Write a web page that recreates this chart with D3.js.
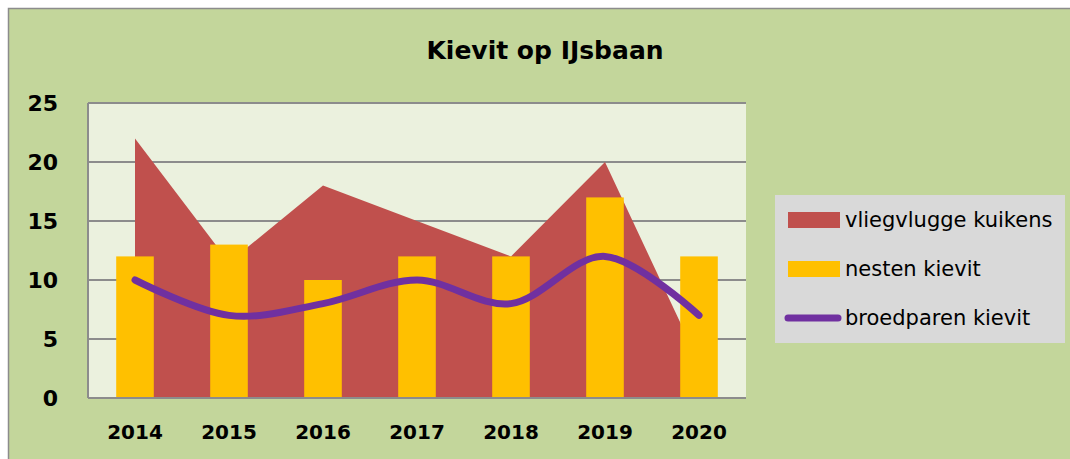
<!DOCTYPE html>
<html><head><meta charset="utf-8">
<script src="https://cdn.jsdelivr.net/npm/d3@7"></script>
<style>
html,body{margin:0;padding:0;background:#fff;overflow:hidden;}
text{font-family:"Comic Sans MS","DejaVu Sans",sans-serif;}
</style></head>
<body>
<svg id="c" width="1070" height="459"></svg>
<script>
const years = ["2014","2015","2016","2017","2018","2019","2020"];
const kuikens = [22, 11.5, 18, 15, 12, 20, 3];
const nesten = [12, 13, 10, 12, 12, 17, 12];
const broedparen = [10, 7, 8, 10, 8, 12, 7];
const yTicks = [0, 5, 10, 15, 20, 25];
const seriesNames = ["vliegvlugge kuikens", "nesten kievit", "broedparen kievit"];
const colors = {area:"#C0504D", bar:"#FFC000", line:"#7030A0"};

const svg = d3.select("#c");
// chart frame
svg.append("rect").attr("x",8.5).attr("y",8.5).attr("width",1070).attr("height",460)
  .attr("fill","#C3D69B").attr("stroke","#8c8c8c").attr("stroke-width",1.5);

const L=88, R=746, T=103, B=398;
const x = d3.scaleBand().domain(years).range([L,R]).paddingInner(0).paddingOuter(0);
const y = d3.scaleLinear().domain([0,25]).range([B,T]);
const cx = d => x(d)+x.bandwidth()/2;

svg.append("rect").attr("x",L).attr("y",T).attr("width",R-L).attr("height",B-T).attr("fill","#EBF1DE");

// gridlines
svg.append("g").selectAll("line").data(yTicks.filter(v=>v>0)).join("line")
  .attr("x1",L).attr("x2",R).attr("y1",d=>y(d)).attr("y2",d=>y(d))
  .attr("stroke","#8c8c8c").attr("stroke-width",2);

// area
const area = d3.area().x((d,i)=>cx(years[i])).y0(y(0)).y1(d=>y(d));
svg.append("path").datum(kuikens).attr("d",area).attr("fill",colors.area);

// bars
const bw = x.bandwidth()*0.4;
svg.append("g").selectAll("rect").data(nesten).join("rect")
  .attr("x",(d,i)=>cx(years[i])-bw/2).attr("width",bw)
  .attr("y",d=>y(d)).attr("height",d=>y(0)-y(d)).attr("fill",colors.bar);

// line
const line = d3.line().x((d,i)=>cx(years[i])).y(d=>y(d)).curve(d3.curveCardinal.tension(0));
svg.append("path").datum(broedparen).attr("d",line).attr("fill","none")
  .attr("stroke",colors.line).attr("stroke-width",7).attr("stroke-linecap","round").attr("stroke-linejoin","round");

// axis lines
svg.append("line").attr("x1",L).attr("x2",L).attr("y1",T).attr("y2",B).attr("stroke","#8c8c8c").attr("stroke-width",2);
svg.append("line").attr("x1",L).attr("x2",R).attr("y1",B).attr("y2",B).attr("stroke","#8c8c8c").attr("stroke-width",2);

// y axis
const ya = d3.axisLeft(y).tickValues(yTicks).tickSize(0).tickPadding(0);
const gy = svg.append("g").attr("transform",`translate(58,0)`).call(ya);
gy.select(".domain").remove();
gy.selectAll("text").attr("font-size",22).attr("font-weight","bold").attr("fill","#000")
  .style("font-family",'"Comic Sans MS","DejaVu Sans",sans-serif');

// x axis
const xa = d3.axisBottom(x).tickSize(0).tickPadding(0);
const gx = svg.append("g").attr("transform",`translate(0,${B+27})`).call(xa);
gx.select(".domain").remove();
gx.selectAll("text").attr("font-size",20).attr("font-weight","bold").attr("fill","#000")
  .style("font-family",'"Comic Sans MS","DejaVu Sans",sans-serif');

// title
svg.append("text").attr("x",545).attr("y",59).attr("text-anchor","middle")
  .attr("font-size",25).attr("font-weight","bold").text("Kievit op IJsbaan");

// legend
const lg = svg.append("g");
lg.append("rect").attr("x",775).attr("y",195).attr("width",290).attr("height",148).attr("fill","#D9D9D9");
const ly = [220, 269, 318];
lg.append("rect").attr("x",788).attr("y",ly[0]-8).attr("width",52).attr("height",16).attr("fill",colors.area);
lg.append("rect").attr("x",788).attr("y",ly[1]-8).attr("width",52).attr("height",16).attr("fill",colors.bar);
lg.append("line").attr("x1",788).attr("x2",838).attr("y1",ly[2]).attr("y2",ly[2])
  .attr("stroke",colors.line).attr("stroke-width",7).attr("stroke-linecap","round");
lg.selectAll("text").data(seriesNames).join("text")
  .attr("x",845).attr("y",(d,i)=>ly[i]).attr("dy","0.35em").attr("font-size",21).attr("fill","#000").text(d=>d);
</script>
</body></html>
